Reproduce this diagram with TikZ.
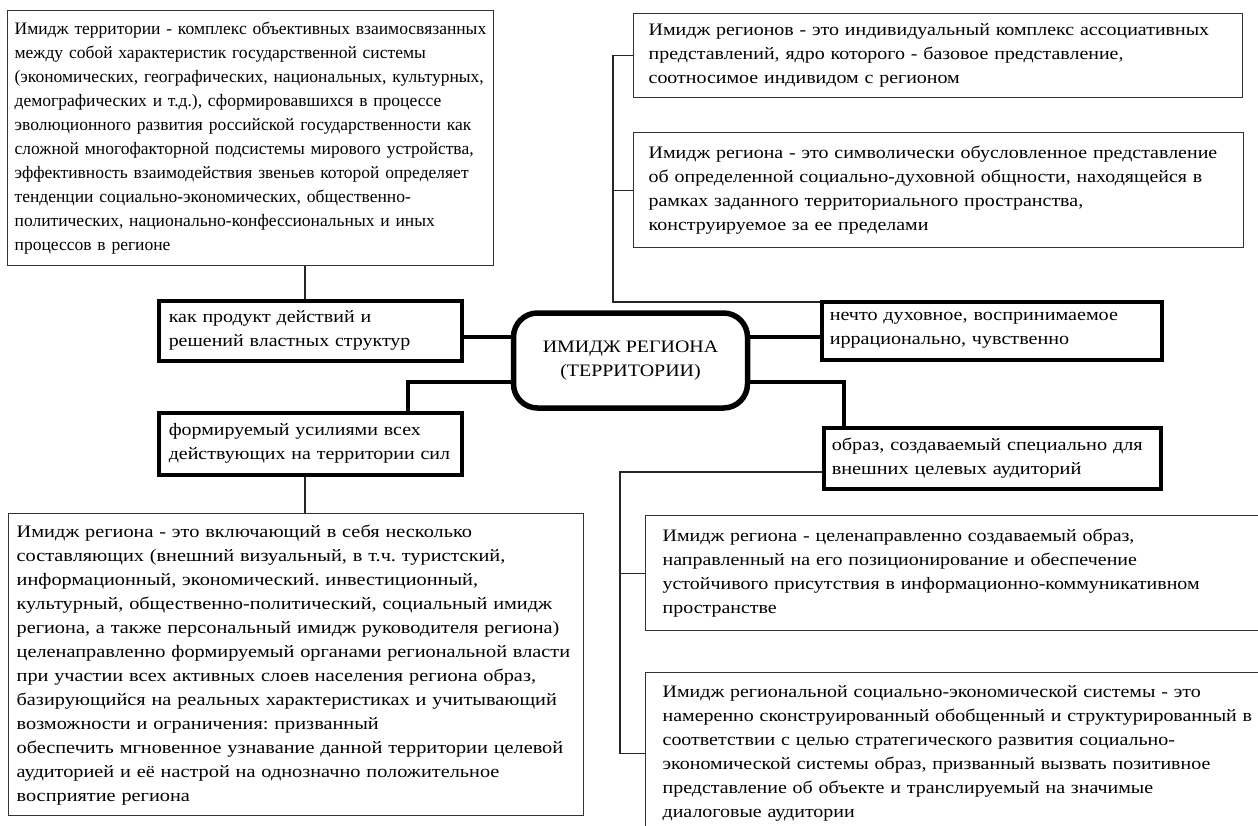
\documentclass[tikz,border=0pt]{standalone}
\usepackage{fontspec}
\setmainfont{Liberation Serif}
\newfontfamily\fW[FakeStretch=1.14]{Liberation Serif}
\newfontfamily\fB[FakeStretch=1.16]{Liberation Serif}
\newfontfamily\fN[FakeStretch=1.15]{Liberation Serif}
\newcommand\dfont{\fontsize{17.5}{24}\selectfont\frenchspacing}
\begin{document}
\begin{tikzpicture}[x=1pt,y=-1pt,
  every node/.style={font=\dfont},
  thinbox/.style={draw=black!80, line width=1.3pt, rectangle, anchor=north west, align=left, inner ysep=0pt},
  thickbox/.style={draw=black, line width=3.5pt, rectangle, anchor=north west, align=left, inner ysep=0pt},
  thinline/.style={draw=black!85, line width=1.2pt},
  thickline/.style={draw=black, line width=3.8pt}
]
\useasboundingbox (0,0) rectangle (1258,825);
\clip (0,0) rectangle (1258,825);
\fill[white] (0,0) rectangle (1258,825);

\node[thinbox, inner xsep=7pt, text width=472pt, minimum height=255pt] (tl) at (7,10)
 {Имидж территории - комплекс объективных взаимосвязанных\\
  между собой характеристик государственной системы\\
  (экономических, географических, национальных, культурных,\\
  демографических и т.д.), сформировавшихся в процессе\\
  эволюционного развития российской государственности как\\
  сложной многофакторной подсистемы мирового устройства,\\
  эффективность взаимодействия звеньев которой определяет\\
  тенденции социально-экономических, общественно-\\
  политических, национально-конфессиональных и иных\\
  процессов в регионе};

\node[thinbox, inner xsep=15pt, text width=579pt, minimum height=84pt, font=\dfont\fW] (tr1) at (633,13)
 {Имидж регионов - это индивидуальный комплекс ассоциативных\\
  представлений, ядро которого - базовое представление,\\
  соотносимое индивидом с регионом};

\node[thinbox, inner xsep=15pt, text width=580pt, minimum height=115pt, font=\dfont\fW] (tr2) at (633,132)
 {Имидж региона - это символически обусловленное представление\\
  об определенной социально-духовной общности, находящейся в\\
  рамках заданного территориального пространства,\\
  конструируемое за ее пределами};

\node[thickbox, inner xsep=10pt, text width=283pt, minimum height=60pt, font=\dfont\fW] (prod) at (157,299)
 {как продукт действий и\\ решений властных структур};

\node[draw=black, line width=5.5pt, rounded corners=24pt, minimum width=234pt, minimum height=95pt, align=center, inner sep=0pt, font=\dfont\fW] (center) at (630.5,360.5)
 {ИМИДЖ РЕГИОНА\\ (ТЕРРИТОРИИ)};

\node[thickbox, inner xsep=8pt, text width=324pt, minimum height=58pt, font=\dfont\fN] (nech) at (820,300)
 {нечто духовное, воспринимаемое\\ иррационально, чувственно};

\node[thickbox, inner xsep=10pt, text width=283pt, minimum height=62pt, font=\dfont\fW] (form) at (157,411)
 {формируемый усилиями всех\\ действующих на территории сил};

\node[thickbox, inner xsep=8pt, text width=321pt, minimum height=61pt, font=\dfont\fB] (obraz) at (822,426)
 {образ, создаваемый специально для\\ внешних целевых аудиторий};

\node[thinbox, inner xsep=8pt, text width=559pt, minimum height=302pt, font=\dfont\fB] (bl) at (8,513)
 {Имидж региона - это включающий в себя несколько\\
  составляющих (внешний визуальный, в т.ч. туристский,\\
  информационный, экономический. инвестиционный,\\
  культурный, общественно-политический, социальный имидж\\
  региона, а также персональный имидж руководителя региона)\\
  целенаправленно формируемый органами региональной власти\\
  при участии всех активных слоев населения региона образ,\\
  базирующийся на реальных характеристиках и учитывающий\\
  возможности и ограничения: призванный\\
  обеспечить мгновенное узнавание данной территории целевой\\
  аудиторией и её настрой на однозначно положительное\\
  восприятие региона};

\node[thinbox, inner xsep=17pt, text width=660pt, minimum height=115pt, font=\dfont\fW] (ba) at (645,515)
 {Имидж региона - целенаправленно создаваемый образ,\\
  направленный на его позиционирование и обеспечение\\
  устойчивого присутствия в информационно-коммуникативном\\
  пространстве};

\node[thinbox, inner xsep=17pt, text width=660pt, minimum height=162pt, font=\dfont\fW] (bb) at (645,672)
 {Имидж региональной социально-экономической системы - это\\
  намеренно сконструированный обобщенный и структурированный в\\
  соответствии с целью стратегического развития социально-\\
  экономической системы образ, призванный вызвать позитивное\\
  представление об объекте и транслируемый на значимые\\
  диалоговые аудитории};

% helper coordinates
\coordinate (yA) at (0,337);
\coordinate (yB) at (0,382);
\coordinate (xL) at (408,0);
\coordinate (xR) at (844,0);
\coordinate (xT) at (613,0);
\coordinate (xU) at (620,0);
\coordinate (yT) at (0,302);
\coordinate (yO) at (0,472);
\coordinate (xP) at (305,0);

% thin connectors
\draw[thinline] (tl.south -| xP) -- (prod.north -| xP);
\draw[thinline] (form.south -| xP) -- (bl.north -| xP);
\draw[thinline] (tr1.west) -| (xT |- yT) -- (nech.west |- yT);
\draw[thinline] (tr2.west) -- (tr2.west -| xT);
\draw[thinline] (obraz.west |- yO) -| (xU |- bb.west) -- (bb.west);
\draw[thinline] (ba.west) -- (ba.west -| xU);

% thick connectors
\draw[thickline] (prod.east |- yA) -- (center.west |- yA);
\draw[thickline] (center.east |- yA) -- (nech.west |- yA);
\draw[thickline] (center.west |- yB) -| (xL |- form.north);
\draw[thickline] (center.east |- yB) -| (xR |- obraz.north);
\end{tikzpicture}
\end{document}
